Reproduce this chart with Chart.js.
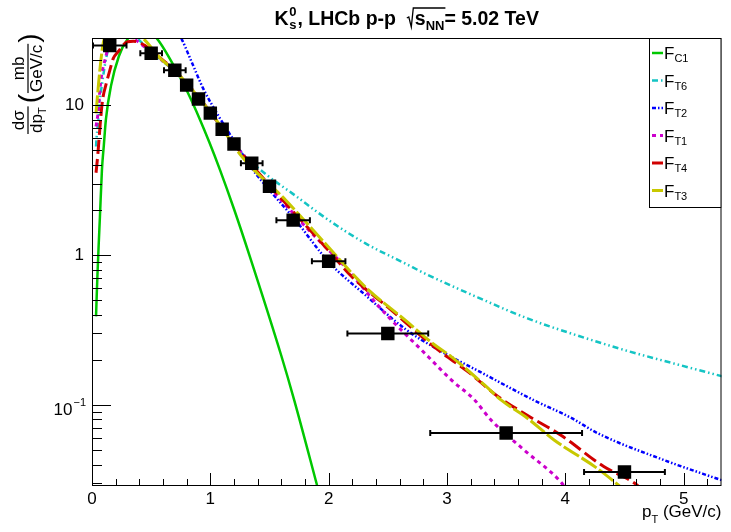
<!DOCTYPE html>
<html><head><meta charset="utf-8">
<script src="https://cdn.jsdelivr.net/npm/chart.js@4.4.0/dist/chart.umd.min.js"></script>
<style>html,body{margin:0;padding:0;background:#fff;}canvas{display:block;}</style>
</head><body>
<canvas id="c" width="731" height="532"></canvas>
<script>
// ---- measured data points (LHCb K0s, p-p 5.02 TeV) ----
const dataX    = [0.15, 0.5, 0.7, 0.8, 0.9, 1.0, 1.1, 1.2, 1.35, 1.5, 1.7, 2.0, 2.5, 3.5, 4.5];
const dataY    = [25.0, 22.2, 17.1, 13.6, 11.0, 8.85, 6.9, 5.5, 4.1, 2.88, 1.71, 0.91, 0.30, 0.065, 0.0357];
const dataXErr = [0.15, 0.1, 0.1, 0.05, 0.05, 0.05, 0.05, 0.05, 0.1, 0.05, 0.15, 0.15, 0.35, 0.65, 0.35];

// ---- fit curves ----
const fC1X = [0.034, 0.045, 0.056, 0.067, 0.084, 0.10, 0.118, 0.16, 0.227, 0.30, 0.42, 0.546, 0.68, 0.81, 0.91, 0.99, 1.08, 1.2, 1.33, 1.6, 1.71, 1.89, 1.93];
const fC1Y = [0.39, 0.7, 1.15, 1.8, 3.7, 5.4, 8.1, 13.4, 21.2, 27.5, 33, 28, 19, 12.1, 8.1, 5.7, 3.73, 2.03, 1.0, 0.213, 0.107, 0.0316, 0.024];

const fT6X = [0.034, 0.039, 0.056, 0.067, 0.084, 0.103, 0.118, 0.14, 0.16, 0.25, 0.38, 0.5, 0.7, 0.8, 0.9, 1.0, 1.1, 1.272, 1.496, 1.692, 2.0, 2.308, 2.645, 2.84, 3.26, 3.68, 4.1, 4.52, 4.94, 5.33];
const fT6Y = [5.3, 6.05, 8.45, 10.9, 13.7, 17.3, 20.2, 24.5, 28, 32, 28, 22.5, 16.8, 13.8, 11.2, 8.9, 7.0, 4.76, 3.33, 2.58, 1.71, 1.2, 0.88, 0.736, 0.522, 0.378, 0.291, 0.23, 0.187, 0.155];

const fT2X = [0.70, 0.754, 0.84, 0.94, 1.08, 1.2, 1.36, 1.52, 1.72, 2.0, 2.3, 2.65, 2.9, 3.3, 3.74, 4.05, 4.27, 4.83, 5.33];
const fT2Y = [33, 28, 19.6, 12.9, 8.2, 5.8, 3.7, 2.6, 1.71, 0.9, 0.55, 0.32, 0.24, 0.163, 0.107, 0.082, 0.065, 0.043, 0.0313];

const fT1X = [0.034, 0.048, 0.056, 0.067, 0.084, 0.103, 0.124, 0.14, 0.23, 0.347, 0.5, 0.7, 0.8, 0.9, 1.0, 1.1, 1.2, 1.35, 1.5, 1.7, 1.888, 2.112, 2.476, 2.813, 3.036, 3.233, 3.372, 3.653, 3.96, 4.0];
const fT1Y = [7.2, 8.45, 9.6, 12.7, 16.4, 19.1, 22.3, 26, 31, 28, 22.5, 17, 14, 11.3, 9.0, 7.0, 5.5, 4.0, 2.85, 1.9, 1.32, 0.88, 0.409, 0.221, 0.147, 0.108, 0.0794, 0.05, 0.0308, 0.028];

const fT4X = [0.034, 0.048, 0.06, 0.07, 0.09, 0.118, 0.15, 0.18, 0.22, 0.3, 0.35, 0.445, 0.55, 0.7, 0.8, 0.9, 1.0, 1.1, 1.2, 1.412, 1.7, 2.0, 2.196, 2.5, 2.924, 3.176, 3.43, 3.65, 3.96, 4.325, 4.605, 4.65];
const fT4Y = [3.54, 4.57, 6.0, 7.6, 10.9, 13.7, 17.0, 20.5, 22.7, 26.5, 26.7, 25.1, 21.5, 17.0, 14.0, 11.3, 9.0, 7.0, 5.5, 3.5, 1.95, 1.07, 0.717, 0.449, 0.233, 0.167, 0.114, 0.088, 0.063, 0.0388, 0.0293, 0.027];

const fT3X = [0.034, 0.056, 0.076, 0.095, 0.112, 0.2, 0.3, 0.43, 0.586, 0.7, 0.8, 0.9, 1.0, 1.1, 1.27, 1.636, 1.944, 2.308, 2.645, 2.897, 3.036, 3.317, 3.456, 3.68, 3.905, 4.269, 4.465, 4.5];
const fT3Y = [8.8, 14.1, 20.2, 26.0, 28.8, 34, 33, 28, 20.2, 17.0, 14.0, 11.3, 9.0, 7.0, 4.5, 2.33, 1.26, 0.615, 0.369, 0.251, 0.21, 0.136, 0.108, 0.0815, 0.0584, 0.0378, 0.0285, 0.027];

const yTickValues = [0.1, 1, 10];
const xTickStep = 1;

const FONT = '"Liberation Sans", Arial, Helvetica, sans-serif';
const pts = (xs, ys) => xs.map((x, i) => ({x: x, y: ys[i]}));

function curve(label, sub, xs, ys, color, width, dash, order) {
  return {type: 'line', label: label, sub: sub, data: pts(xs, ys), borderColor: color, borderWidth: width,
    borderDash: dash, pointRadius: 0, pointHoverRadius: 0, fill: false, cubicInterpolationMode: 'monotone',
    order: order, clip: 0, borderCapStyle: 'butt'};
}

const curves = [
  curve('F_C1', 'C1', fC1X, fC1Y, '#00c800', 2.5, [], 6),
  curve('F_T6', 'T6', fT6X, fT6Y, '#14c4c4', 2.5, [6, 3, 1.5, 3, 1.5, 3], 5),
  curve('F_T2', 'T2', fT2X, fT2Y, '#0000ff', 2.5, [4, 2, 1.5, 2, 1.5, 2], 4),
  curve('F_T1', 'T1', fT1X, fT1Y, '#cc00cc', 3, [4, 4], 3),
  curve('F_T4', 'T4', fT4X, fT4Y, '#d00000', 3, [14, 5], 2),
  curve('F_T3', 'T3', fT3X, fT3Y, '#c8c800', 3, [18, 3], 1)
];

const dataSet = {type: 'scatter', label: 'LHCb', data: pts(dataX, dataY), pointStyle: 'rect', pointRadius: 9.5,
  pointHoverRadius: 9.5, backgroundColor: '#000', borderColor: '#000', borderWidth: 0, order: 0, clip: 0};

const framePlugin = {
  id: 'rootframe',
  beforeDatasetDraw(chart, args) {
    if (chart.data.datasets[args.index] !== dataSet) return;
    const ctx = chart.ctx, xs = chart.scales.x, ys = chart.scales.y, a = chart.chartArea;
    ctx.save();
    ctx.beginPath(); ctx.rect(a.left, a.top, a.right - a.left, a.bottom - a.top); ctx.clip();
    ctx.strokeStyle = '#000'; ctx.lineWidth = 2;
    dataX.forEach((x, i) => {
      const y = ys.getPixelForValue(dataY[i]);
      const x1 = xs.getPixelForValue(x - dataXErr[i]), x2 = xs.getPixelForValue(x + dataXErr[i]);
      ctx.beginPath(); ctx.moveTo(x1, y); ctx.lineTo(x2, y);
      ctx.moveTo(x1 + 1, y - 3); ctx.lineTo(x1 + 1, y + 3);
      ctx.moveTo(x2 - 1, y - 3); ctx.lineTo(x2 - 1, y + 3);
      ctx.stroke();
    });
    ctx.restore();
  },
  afterDatasetsDraw(chart) {
    const ctx = chart.ctx, a = chart.chartArea, xs = chart.scales.x, ys = chart.scales.y;
    ctx.save();
    ctx.strokeStyle = '#000'; ctx.lineWidth = 1;
    ctx.strokeRect(a.left + 0.5, a.top + 0.5, a.right - a.left - 1, a.bottom - a.top - 1);
    // x ticks
    ctx.beginPath();
    for (let k = 0; k * 0.2 <= xs.max + 1e-9; k++) {
      const v = k * 0.2, px = Math.round(xs.getPixelForValue(v)) + 0.5;
      const len = (k % 5 === 0) ? 13 : 7;
      ctx.moveTo(px, a.bottom); ctx.lineTo(px, a.bottom - len);
    }
    // y ticks (log)
    for (let d = -3; d <= 2; d++) {
      for (let m = 1; m <= 9; m++) {
        const v = m * Math.pow(10, d);
        if (v < ys.min || v > ys.max) continue;
        const py = Math.round(ys.getPixelForValue(v)) + 0.5;
        const len = (m === 1) ? 19 : 10;
        ctx.moveTo(a.left, py); ctx.lineTo(a.left + len, py);
      }
    }
    ctx.stroke();
    // legend
    const lx1 = 649, ly1 = a.top, lx2 = a.right, ly2 = 208;
    ctx.fillStyle = '#fff'; ctx.fillRect(lx1, ly1, lx2 - lx1, ly2 - ly1);
    ctx.strokeRect(lx1 + 0.5, ly1 + 0.5, lx2 - lx1 - 1, ly2 - ly1 - 1);
    curves.forEach((c, i) => {
      const ry = 53 + i * 27.5;
      ctx.save();
      ctx.strokeStyle = c.borderColor; ctx.lineWidth = c.borderWidth; ctx.setLineDash(c.borderDash);
      ctx.beginPath(); ctx.moveTo(652, ry); ctx.lineTo(663, ry); ctx.stroke();
      ctx.restore();
      ctx.fillStyle = '#000'; ctx.textAlign = 'left'; ctx.textBaseline = 'alphabetic';
      ctx.font = '17px ' + FONT; ctx.fillText('F', 664, ry + 6);
      const wf = ctx.measureText('F').width;
      ctx.font = '11px ' + FONT; ctx.fillText(c.sub, 664 + wf, ry + 9);
    });
    ctx.restore();
  },
  afterDraw(chart) {
    const ctx = chart.ctx, a = chart.chartArea, ys = chart.scales.y;
    ctx.save();
    ctx.fillStyle = '#000'; ctx.strokeStyle = '#000';
    ctx.textAlign = 'left'; ctx.textBaseline = 'alphabetic';
    // 10^-1 label
    const py = ys.getPixelForValue(0.1);
    ctx.font = '11px ' + FONT; const wsup = ctx.measureText('\u22121').width;
    ctx.font = '17px ' + FONT; const w10 = ctx.measureText('10').width;
    const xr = 86;
    ctx.fillText('10', xr - wsup - w10 - 1, py + 10);
    ctx.font = '11px ' + FONT; ctx.fillText('\u22121', xr - wsup, py + 1);
    // title (centred over the frame)
    const base = 25;
    const big = 'bold 19.5px ' + FONT, small = 'bold 13px ' + FONT;
    ctx.font = big;
    const wK = ctx.measureText('K').width, s1 = ', LHCb p-p  ', w1 = ctx.measureText(s1).width;
    const wS = ctx.measureText('s').width, s2 = '= 5.02 TeV', w2 = ctx.measureText(s2).width;
    ctx.font = small;
    const w0 = ctx.measureText('0').width + 1.5, wNN = ctx.measureText('NN').width;
    const total = wK + w0 + w1 + 8 + wS + wNN + w2;
    let x = (a.left + a.right) / 2 - total / 2;
    ctx.font = big; ctx.fillText('K', x, base); x += wK;
    ctx.font = small; ctx.fillText('0', x + 0.5, base - 9); ctx.fillText('s', x + 0.5, base + 4);
    x += w0;
    ctx.font = big; ctx.fillText(s1, x, base); x += w1;
    const sx = x;
    ctx.lineWidth = 1.3; ctx.beginPath();
    ctx.moveTo(sx, base - 7); ctx.lineTo(sx + 2, base - 8); ctx.lineTo(sx + 4.5, base + 2);
    ctx.lineTo(sx + 6.5, base - 17); ctx.lineTo(sx + 8 + wS + wNN + 1, base - 17); ctx.stroke();
    x = sx + 8;
    ctx.font = big; ctx.fillText('s', x, base); x += wS;
    ctx.font = small; ctx.fillText('NN', x, base + 5); x += wNN;
    ctx.font = big; ctx.fillText(s2, x, base);
    // x-axis title
    ctx.font = '17px ' + FONT; const wg = ctx.measureText(' (GeV/c)').width, wp = ctx.measureText('p').width;
    ctx.font = '11px ' + FONT; const wt = ctx.measureText('T').width;
    let tx = a.right - wg - wt - wp;
    ctx.font = '17px ' + FONT; ctx.fillText('p', tx, 517); tx += wp;
    ctx.font = '11px ' + FONT; ctx.fillText('T', tx, 523); tx += wt;
    ctx.font = '17px ' + FONT; ctx.fillText(' (GeV/c)', tx, 517);
    // y-axis title (rotated)
    ctx.translate(28, 134); ctx.rotate(-Math.PI / 2);
    const N = '17px ' + FONT, S = '11px ' + FONT;
    ctx.font = N; const wds = ctx.measureText('d\u03c3').width, wdp = ctx.measureText('dp').width;
    ctx.font = S; const wT = ctx.measureText('T').width;
    const W1 = Math.max(wds, wdp + wT) + 2;
    ctx.font = N; ctx.fillText('d\u03c3', (W1 - wds) / 2, -4);
    const dx = (W1 - wdp - wT) / 2; ctx.fillText('dp', dx, 14);
    ctx.font = S; ctx.fillText('T', dx + wdp, 18);
    ctx.fillRect(0, -0.6, W1, 1.2);
    let lx = W1 + 3;
    ctx.font = '28px ' + FONT; ctx.fillText('(', lx, 10); lx += ctx.measureText('(').width + 1;
    ctx.font = N; const wmb = ctx.measureText('mb').width, wgc = ctx.measureText('GeV/c').width;
    const W2 = Math.max(wmb, wgc) + 2;
    ctx.fillText('mb', lx + (W2 - wmb) / 2, -4);
    ctx.fillText('GeV/c', lx + (W2 - wgc) / 2, 14);
    ctx.fillRect(lx, -0.6, W2, 1.2);
    lx += W2 + 1;
    ctx.font = '28px ' + FONT; ctx.fillText(')', lx, 10);
    ctx.restore();
  }
};

new Chart(document.getElementById('c'), {
  type: 'scatter',
  data: {datasets: [dataSet].concat(curves)},
  options: {
    responsive: false, animation: false, devicePixelRatio: 1,
    layout: {padding: {top: 38, right: 3, left: 0, bottom: 0}},
    plugins: {legend: {display: false}, title: {display: false}, tooltip: {enabled: false}},
    events: [],
    scales: {
      x: {type: 'linear', min: 0, max: 5.32,
        grid: {display: false, drawTicks: false}, border: {display: false},
        ticks: {stepSize: xTickStep, includeBounds: false, autoSkip: false, maxRotation: 0, padding: 3,
          color: '#000', font: {family: FONT, size: 17}, callback: v => String(v)},
        afterFit: s => { s.height = 46; }},
      y: {type: 'logarithmic', min: 0.0288, max: 28.06,
        grid: {display: false, drawTicks: false}, border: {display: false},
        afterBuildTicks: s => { s.ticks = yTickValues.map(v => ({value: v})); },
        ticks: {autoSkip: false, padding: 8, color: '#000', font: {family: FONT, size: 17},
          callback: v => (v >= 9.99 ? '10' : (v >= 0.99 ? '1' : ''))},
        afterFit: s => { s.width = 92; }}
    }
  },
  plugins: [framePlugin]
});
</script>
</body></html>
